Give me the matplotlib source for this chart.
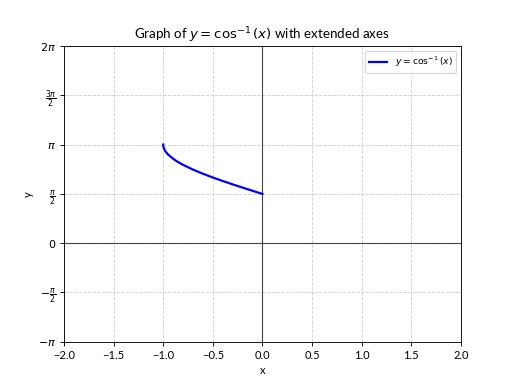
import numpy as np
import matplotlib.pyplot as plt

plt.rcParams['font.family'] = ['Lato', 'DejaVu Sans']
plt.rcParams['mathtext.fontset'] = 'dejavusans'

# points
x_vals = [-1.0, -0.999, -0.995, -0.99, -0.98, -0.97, -0.95, -0.9, -0.85, -0.8,
          -0.7, -0.6, -0.5, -0.4, -0.3, -0.2, -0.1, 0.0]
y_vals = [3.1416, 3.0969, 3.0415, 3.0001, 2.9413, 2.8960, 2.8240, 2.6906, 2.5868, 2.4981,
          2.3462, 2.2143, 2.0944, 1.9823, 1.8755, 1.7722, 1.6710, 1.5708]

ytick_vals = [-np.pi, -np.pi / 2, 0, np.pi / 2, np.pi, 3 * np.pi / 2, 2 * np.pi]
ytick_labels = [r'$-\pi$', r'$-\frac{\pi}{2}$', r'$0$', r'$\frac{\pi}{2}$',
                r'$\pi$', r'$\frac{3\pi}{2}$', r'$2\pi$']

fig, ax = plt.subplots(figsize=(6.4, 4.8), dpi=80)
ax.plot(x_vals, y_vals, color='blue', linewidth=2, label=r'$y = \cos^{-1}(x)$')
ax.axhline(0, color='black', linewidth=1, alpha=0.7)
ax.axvline(0, color='black', linewidth=1, alpha=0.7)

ax.set_xlim(-2, 2)
ax.set_ylim(-np.pi, 2 * np.pi)
ax.set_yticks(ytick_vals)
ax.set_yticklabels(ytick_labels)

ax.set_title(r'Graph of $y = \cos^{-1}(x)$ with extended axes')
ax.set_xlabel('x')
ax.set_ylabel('y')
ax.grid(True, linestyle='--', alpha=0.6)
ax.legend(loc='upper right', fontsize='small')

fig.savefig('out.png', dpi=80)
